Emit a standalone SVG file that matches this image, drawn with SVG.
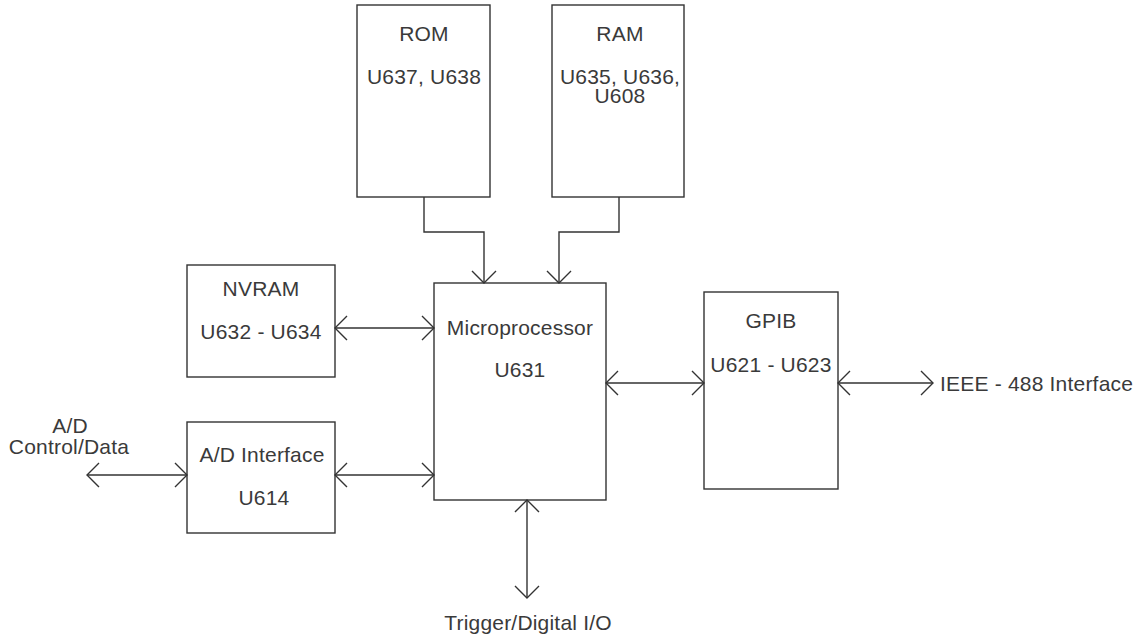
<svg xmlns="http://www.w3.org/2000/svg" width="1144" height="642" viewBox="0 0 1144 642">
<style>
.box{fill:#fff;stroke:#333;stroke-width:1.4}
.ln{fill:none;stroke:#333;stroke-width:1.4}
text{font-family:"Liberation Sans",Arial,sans-serif;font-size:21px;fill:#3a3a3a;letter-spacing:0.2px;text-anchor:middle}
</style>
<defs>
<marker id="ah" viewBox="-14 -14 16 28" markerWidth="16" markerHeight="28" refX="0" refY="0" orient="auto-start-reverse" markerUnits="userSpaceOnUse">
<path d="M-12,-12 L0,0 L-12,12" fill="none" stroke="#333" stroke-width="1.4"/>
</marker>
</defs>
<rect width="1144" height="642" fill="#fff"/>
<g id="rom"><rect class="box" x="357" y="5" width="133" height="192"/><text x="424" y="41">ROM</text><text x="424" y="84">U637, U638</text></g>
<g id="ram"><rect class="box" x="552" y="5" width="132" height="192"/><text x="620" y="41">RAM</text><text x="620" y="84">U635, U636,</text><text x="620" y="103">U608</text></g>
<g id="nvram"><rect class="box" x="187" y="265" width="148" height="112"/><text x="261" y="296">NVRAM</text><text x="261" y="339">U632 - U634</text></g>
<g id="micro"><rect class="box" x="434" y="283" width="172" height="217"/><text x="520" y="335">Microprocessor</text><text x="520" y="377">U631</text></g>
<g id="adif"><rect class="box" x="187" y="422" width="148" height="111"/><text x="262" y="462">A/D Interface</text><text x="264" y="505">U614</text></g>
<g id="gpib"><rect class="box" x="704" y="292" width="134" height="197"/><text x="771" y="328">GPIB</text><text x="771" y="372">U621 - U623</text></g>
<g id="labels">
<text x="70" y="433">A/D</text><text x="69" y="454">Control/Data</text>
<text x="528" y="630">Trigger/Digital I/O</text>
<text x="940" y="391" style="text-anchor:start">IEEE - 488 Interface</text>
</g>
<g id="connectors">
<path class="ln" d="M424,197 V232 H484 V283" marker-end="url(#ah)"/>
<path class="ln" d="M619,197 V232 H559 V283" marker-end="url(#ah)"/>
<path class="ln" d="M335,328 H434" marker-start="url(#ah)" marker-end="url(#ah)"/>
<path class="ln" d="M87,475 H187" marker-start="url(#ah)" marker-end="url(#ah)"/>
<path class="ln" d="M335,475 H434" marker-start="url(#ah)" marker-end="url(#ah)"/>
<path class="ln" d="M606,383 H704" marker-start="url(#ah)" marker-end="url(#ah)"/>
<path class="ln" d="M838,383 H933" marker-start="url(#ah)" marker-end="url(#ah)"/>
<path class="ln" d="M527,500 V598" marker-start="url(#ah)" marker-end="url(#ah)"/>
</g>
</svg>
